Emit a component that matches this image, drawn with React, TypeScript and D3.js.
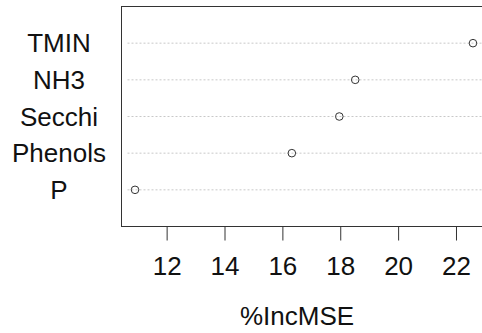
import React, { useEffect, useRef } from "react";
import * as d3 from "d3";

// variable importance (%IncMSE), bottom to top
const variables = ["P", "Phenols", "Secchi", "NH3", "TMIN"];
const incMSE = [10.89, 16.31, 17.95, 18.5, 22.57];
const xTicks = [12, 14, 16, 18, 20, 22];
const xTitle = "%IncMSE";

const W = 482,
  H = 333;

export default function App() {
  const ref = useRef<SVGSVGElement>(null);

  useEffect(() => {
    const svg = d3.select(ref.current);
    svg.selectAll("*").remove();

    const plot = { left: 121.5, right: 486.5, top: 6.5, bottom: 226.5 };
    const font = "'Liberation Sans', Arial, sans-serif";

    // R-style 4% padding around the data range
    const [lo, hi] = d3.extent(incMSE) as [number, number];
    const pad = (hi - lo) * 0.04;
    const x = d3
      .scaleLinear()
      .domain([lo - pad, hi + pad])
      .range([plot.left, plot.right]);
    const y = d3
      .scaleLinear()
      .domain([0, variables.length + 1])
      .range([plot.bottom, plot.top]);

    const data = variables.map((v, i) => ({ name: v, value: incMSE[i], row: i + 1 }));

    // dotted guide lines
    svg
      .selectAll(".guide")
      .data(data)
      .join("line")
      .attr("class", "guide")
      .attr("x1", plot.left + 6)
      .attr("x2", plot.right)
      .attr("y1", (d) => y(d.row))
      .attr("y2", (d) => y(d.row))
      .attr("stroke", "#c8c8c8")
      .attr("stroke-width", 1)
      .attr("stroke-dasharray", "2,2");

    // box
    svg
      .append("rect")
      .attr("x", plot.left)
      .attr("y", plot.top)
      .attr("width", plot.right - plot.left)
      .attr("height", plot.bottom - plot.top)
      .attr("fill", "none")
      .attr("stroke", "#333")
      .attr("stroke-width", 1);

    // points
    svg
      .selectAll(".pt")
      .data(data)
      .join("circle")
      .attr("class", "pt")
      .attr("cx", (d) => x(d.value))
      .attr("cy", (d) => y(d.row))
      .attr("r", 3.8)
      .attr("fill", "none")
      .attr("stroke", "#333")
      .attr("stroke-width", 1);

    // row labels
    svg
      .selectAll(".lab")
      .data(data)
      .join("text")
      .attr("class", "lab")
      .attr("x", 59)
      .attr("y", (d) => y(d.row))
      .attr("dy", "0.35em")
      .attr("text-anchor", "middle")
      .attr("font-family", font)
      .attr("font-size", 26)
      .attr("fill", "#111")
      .text((d) => d.name);

    // x axis
    const axis = svg.append("g").attr("transform", `translate(0, ${plot.bottom})`);
    axis
      .selectAll("line")
      .data(xTicks)
      .join("line")
      .attr("x1", (d) => x(d))
      .attr("x2", (d) => x(d))
      .attr("y1", 0)
      .attr("y2", 14)
      .attr("stroke", "#333");
    axis
      .selectAll("text")
      .data(xTicks)
      .join("text")
      .attr("x", (d) => x(d))
      .attr("y", 48)
      .attr("text-anchor", "middle")
      .attr("font-family", font)
      .attr("font-size", 26)
      .attr("fill", "#111")
      .text((d) => d);

    svg
      .append("text")
      .attr("x", 297)
      .attr("y", 325)
      .attr("text-anchor", "middle")
      .attr("font-family", font)
      .attr("font-size", 26)
      .attr("fill", "#111")
      .text(xTitle);
  }, []);

  return (
    <svg
      ref={ref}
      width={W}
      height={H}
      style={{ position: "absolute", left: 0, top: 0, background: "#fff" }}
    />
  );
}
